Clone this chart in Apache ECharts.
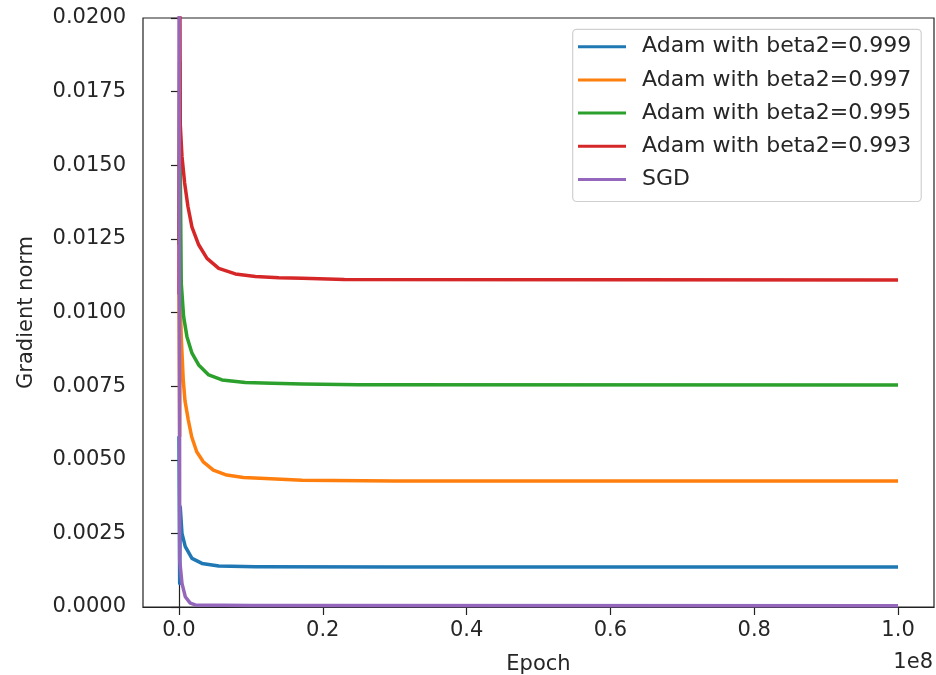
<!DOCTYPE html>
<html>
<head>
<meta charset="utf-8">
<script src="https://cdn.jsdelivr.net/npm/echarts@6/dist/echarts.min.js"></script>
<style>
  html, body { margin: 0; padding: 0; background: #fff; }
  #chart { width: 936px; height: 675px; }
</style>
</head>
<body>
<div id="chart"></div>
<script>
// Gradient norm vs. epoch, points are [epoch, gradient norm]
const adamBeta999 = [[0,0.0058],[1e5,0.0008],[1.8e5,0.0034],[4.2e5,0.0025],[8.8e5,0.00205],[1.81e6,0.00165],[3.2e6,0.00148],[5.53e6,0.00139],[1.063e7,0.00137],[3e7,0.00136],[1e8,0.00136]];
const adamBeta997 = [[0,0.0106],[1e5,0.0058],[1.6e5,0.0104],[3.5e5,0.0090],[6e5,0.0077],[8.4e5,0.0070],[1.3e6,0.00635],[1.77e6,0.00578],[2.47e6,0.00527],[3.38e6,0.00493],[4.78e6,0.00465],[6.64e6,0.00448],[8.96e6,0.0044],[1.128e7,0.00437],[1.713e7,0.0043],[3e7,0.00428],[1e8,0.00428]];
const adamBeta995 = [[0,0.0123],[1e5,0.0185],[1.8e5,0.0150],[3.2e5,0.0110],[6.5e5,0.00986],[1.11e6,0.00918],[1.81e6,0.00862],[2.74e6,0.00822],[4.14e6,0.00788],[5.99e6,0.00771],[9.23e6,0.00762],[1.295e7,0.0076],[1.713e7,0.00757],[2.5e7,0.00755],[1e8,0.00754]];
const adamBeta993 = [[0,0.0106],[1e5,0.024],[1.8e5,0.0164],[4.2e5,0.0153],[7.9e5,0.0144],[1.25e6,0.0136],[1.81e6,0.0129],[2.74e6,0.0123],[3.9e6,0.01184],[5.53e6,0.0115],[7.84e6,0.01131],[1.063e7,0.01122],[1.389e7,0.01118],[1.713e7,0.01116],[2.3e7,0.01112],[1e8,0.0111]];
const sgd = [[0,0.03],[1e5,0.0016],[4.2e5,0.0008],[8.8e5,0.00035],[1.57e6,0.00013],[2.27e6,0.00007],[1e7,0.00005],[1e8,0.00004]];

const seriesNames = ['Adam with beta2=0.999', 'Adam with beta2=0.997', 'Adam with beta2=0.995', 'Adam with beta2=0.993', 'SGD'];
const seriesData = [adamBeta999, adamBeta997, adamBeta995, adamBeta993, sgd];
const seriesColors = ['#1f77b4', '#ff7f0e', '#2ca02c', '#d62728', '#9467bd'];

const xTicks = [0, 2e7, 4e7, 6e7, 8e7, 1e8];

const FONT = 'DejaVu Sans';
const TXT = '#262626';

const chart = echarts.init(document.getElementById('chart'), null, { renderer: 'canvas' });

chart.setOption({
  animation: false,
  backgroundColor: '#fff',
  textStyle: { fontFamily: FONT },
  grid: {
    left: 143, right: 2, top: 18, bottom: 68,
    outerBoundsMode: 'none',
    containLabel: false,
    show: true, borderColor: '#222', borderWidth: 1.2, backgroundColor: 'transparent'
  },
  legend: {
    orient: 'vertical',
    left: 572.7, top: 29.3,
    data: seriesNames,
    icon: 'rect',
    itemWidth: 48, itemHeight: 3,
    itemGap: 11.2,
    padding: [6.4, 10, 11, 5.3],
    backgroundColor: '#fff',
    borderColor: '#d0d0d0', borderWidth: 1.2, borderRadius: 4,
    textStyle: { fontFamily: FONT, fontSize: 22, color: TXT, lineHeight: 22, padding: [0, 0, 0, 11] }
  },
  xAxis: {
    type: 'value',
    min: -5e6, max: 1.05e8,
    name: 'Epoch',
    nameLocation: 'middle',
    nameGap: 47,
    nameTextStyle: { fontFamily: FONT, fontSize: 21, color: TXT },
    axisLine: { show: true, onZero: false, lineStyle: { color: '#222', width: 1.2 } },
    axisTick: { show: true, length: 8, lineStyle: { color: '#222', width: 1.2 }, customValues: xTicks },
    axisLabel: {
      customValues: xTicks,
      margin: 13,
      fontFamily: FONT, fontSize: 21, color: TXT,
      formatter: v => (v / 1e8).toFixed(1)
    },
    splitLine: { show: false }
  },
  yAxis: {
    type: 'value',
    min: 0, max: 0.02, interval: 0.0025,
    name: 'Gradient norm',
    nameLocation: 'middle',
    nameGap: 106,
    nameTextStyle: { fontFamily: FONT, fontSize: 21, color: TXT },
    axisLine: { show: true, lineStyle: { color: '#222', width: 1.2 } },
    axisTick: { show: true, length: 8, lineStyle: { color: '#222', width: 1.2 } },
    axisLabel: {
      margin: 17,
      fontFamily: FONT, fontSize: 21, color: TXT,
      formatter: v => v.toFixed(4)
    },
    splitLine: { show: false }
  },
  graphic: [{
    type: 'text',
    right: 3, top: 652,
    style: { text: '1e8', fontFamily: FONT, fontSize: 21, fill: TXT }
  }],
  series: seriesData.map((d, i) => ({
    name: seriesNames[i],
    type: 'line',
    data: d,
    symbol: 'none',
    clip: true,
    color: seriesColors[i],
    lineStyle: { width: 3.5, color: seriesColors[i], join: 'round' },
    z: 2 + i
  }))
});
</script>
</body>
</html>
